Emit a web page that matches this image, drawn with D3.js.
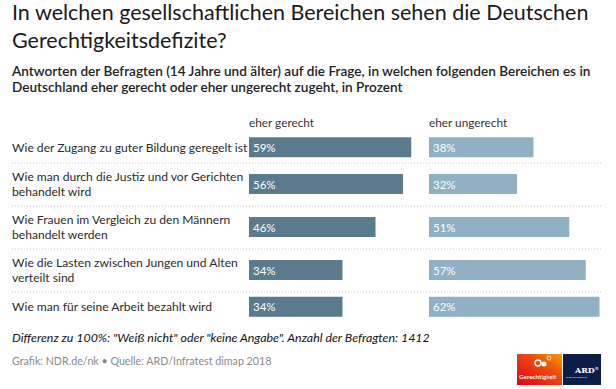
<!DOCTYPE html>
<html>
<head>
<meta charset="utf-8">
<script src="https://cdn.jsdelivr.net/npm/d3@7"></script>
<style>
  html, body { margin: 0; padding: 0; background: #fff; }
  svg { display: block; font-family: Lato, "Noto Sans", sans-serif; }
</style>
</head>
<body>
<svg id="chart" width="616" height="389"></svg>
<script>
// ---- data ----
const categories = [
  ["Wie der Zugang zu guter Bildung geregelt ist"],
  ["Wie man durch die Justiz und vor Gerichten", "behandelt wird"],
  ["Wie Frauen im Vergleich zu den Männern", "behandelt werden"],
  ["Wie die Lasten zwischen Jungen und Alten", "verteilt sind"],
  ["Wie man für seine Arbeit bezahlt wird"]
];
const gerecht   = [59, 56, 46, 34, 34];
const ungerecht = [38, 32, 51, 57, 62];
const seriesNames = ["eher gerecht", "eher ungerecht"];
const titleLines = ["In welchen gesellschaftlichen Bereichen sehen die Deutschen", "Gerechtigkeitsdefizite?"];
const subtitleLines = ["Antworten der Befragten (14 Jahre und älter) auf die Frage, in welchen folgenden Bereichen es in",
                       "Deutschland eher gerecht oder eher ungerecht zugeht, in Prozent"];
const footnote = "Differenz zu 100%: \"Weiß nicht\" oder \"keine Angabe\". Anzahl der Befragten: 1412";
const source = "Grafik: NDR.de/nk • Quelle: ARD/Infratest dimap 2018";

// ---- layout ----
const svg = d3.select("#chart");
const leftX = 12;
const colX = [249, 429];
const colors = ["#5b7a8e", "#91b0c4"];
const barH = 20;

// title
svg.append("g").selectAll("text").data(titleLines).join("text")
  .attr("x", leftX).attr("y", (d, i) => 20 + i * 28)
  .attr("font-size", 21.5).attr("fill", "#1a1a1a")
  .text(d => d);

// subtitle
svg.append("g").selectAll("text").data(subtitleLines).join("text")
  .attr("x", leftX).attr("y", (d, i) => 76 + i * 15.5)
  .attr("font-size", 13.6).attr("font-weight", 600).attr("fill", "#222")
  .text(d => d);

// column headers
svg.append("g").selectAll("text").data(seriesNames).join("text")
  .attr("x", (d, i) => colX[i]).attr("y", 127)
  .attr("font-size", 11.8).attr("fill", "#333")
  .text(d => d);

// rows: variable height depending on number of label lines
const rows = [];
let yTop = 131;
categories.forEach((lines, i) => {
  const h = lines.length === 1 ? 31.5 : 43;
  rows.push({lines, top: yTop, h, center: yTop + h / 2 + (lines.length === 1 ? (i === 0 ? 0.5 : -0.5) : 0), values: [gerecht[i], ungerecht[i]]});
  yTop += h;
});

const x = d3.scaleLinear().domain([0, 100]).range([0, 275]);

// separators
svg.append("g").selectAll("line").data(rows.slice(0, -1)).join("line")
  .attr("x1", leftX).attr("x2", 603)
  .attr("y1", d => d.top + d.h + 0.5).attr("y2", d => d.top + d.h + 0.5)
  .attr("stroke", "#c8c8c8").attr("stroke-width", 1).attr("stroke-dasharray", "1,2");

const rowG = svg.append("g").selectAll("g").data(rows).join("g");

// labels
rowG.each(function(d) {
  const g = d3.select(this);
  const n = d.lines.length;
  d.lines.forEach((line, j) => {
    g.append("text")
      .attr("x", leftX)
      .attr("y", d.center + 4.5 + (j - (n - 1) / 2) * 15.5)
      .attr("font-size", 12.1).attr("fill", "#2a2a2a")
      .text(line);
  });
});

// bars
[0, 1].forEach(s => {
  rowG.append("rect")
    .attr("x", colX[s])
    .attr("y", d => d.center - barH / 2)
    .attr("width", d => x(d.values[s]))
    .attr("height", barH)
    .attr("fill", colors[s]);
  rowG.append("text")
    .attr("x", colX[s] + 4)
    .attr("y", d => d.center + 4.5)
    .attr("font-size", 11.5).attr("fill", "#fff")
    .text(d => d.values[s] + "%");
});

// footnote
svg.append("text").attr("x", leftX).attr("y", 342)
  .attr("font-size", 12.4).attr("font-style", "italic").attr("fill", "#111")
  .text(footnote);

// source
svg.append("text").attr("x", leftX).attr("y", 365)
  .attr("font-size", 10.7).attr("fill", "#8a8a8a")
  .text(source);

// logo
const defs = svg.append("defs");
const grad = defs.append("linearGradient").attr("id", "redgrad")
  .attr("x1", "0").attr("y1", "1").attr("x2", "1").attr("y2", "0");
grad.append("stop").attr("offset", "0%").attr("stop-color", "#e2001a");
grad.append("stop").attr("offset", "60%").attr("stop-color", "#ec4a10");
grad.append("stop").attr("offset", "100%").attr("stop-color", "#f59c00");
const logo = svg.append("g");
logo.append("rect").attr("x", 517).attr("y", 354).attr("width", 45).attr("height", 31).attr("fill", "url(#redgrad)");
logo.append("rect").attr("x", 563).attr("y", 354).attr("width", 38).attr("height", 31).attr("fill", "#0c1d4a");
// icon figures
logo.append("circle").attr("cx", 538).attr("cy", 363).attr("r", 3).attr("fill", "none").attr("stroke", "#fff").attr("stroke-width", 1.6);
logo.append("circle").attr("cx", 544).attr("cy", 364).attr("r", 2.5).attr("fill", "#fff");
logo.append("circle").attr("cx", 549).attr("cy", 358).attr("r", 2).attr("fill", "none").attr("stroke", "#fff").attr("stroke-width", 0.8);
logo.append("text").attr("x", 519).attr("y", 379).attr("font-size", 6.3).attr("font-weight", 700).attr("fill", "#fff")
  .text("Gerecht").append("tspan").attr("font-weight", 400).text("igkeit");
logo.append("text").attr("x", 575).attr("y", 373).attr("font-size", 8).attr("font-weight", 700)
  .attr("font-family", "DejaVu Serif, serif").attr("fill", "#fff").text("ARD")
  .append("tspan").attr("font-size", 4).attr("dy", -3).text("®");
logo.append("text").attr("x", 566).attr("y", 378).attr("font-size", 2.6).attr("fill", "#fff").text("THEMENWOCHE");
</script>
</body>
</html>
